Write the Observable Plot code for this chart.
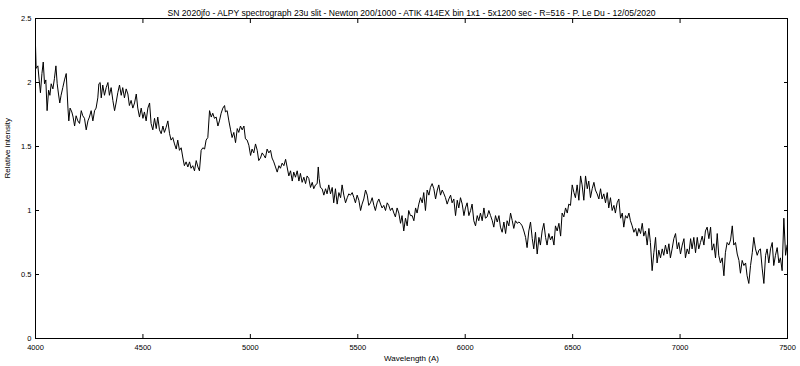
<!DOCTYPE html>
<html><head><meta charset="utf-8">
<script src="https://cdn.jsdelivr.net/npm/d3@7"></script>
<script src="https://cdn.jsdelivr.net/npm/@observablehq/plot@0.6"></script>
<style>html,body{margin:0;padding:0;background:#fff}svg{display:block}</style>
</head><body><div id="chart"></div>
<script>
const title = "SN 2020jfo - ALPY spectrograph 23u slit - Newton 200/1000 - ATIK 414EX bin 1x1 - 5x1200 sec - R=516 - P. Le Du - 12/05/2020";
const xLabel = "Wavelength (A)";
const yLabel = "Relative intensity";
const xTicks = [4000, 4500, 5000, 5500, 6000, 6500, 7000, 7500];
const yTicks = [0, 0.5, 1, 1.5, 2, 2.5];
const yTickLabels = ["0", "0.5", "1", "1.5", "2", "2.5"];

const wlA = [4000,4003,4011,4017,4023,4030,4036,4042,4048,4054,4061,4067,4073,4081,4088,4095,4101,4107,4113,4119,4127,4135,4143,4151,4155,4161,4169,4175,4182,4189,4197,4205,4213,4220,4228,4236,4244,4251,4259,4267,4275,4282,4290,4295,4301,4306,4313,4321,4329,4337,4344,4352,4360,4368,4375,4383,4391,4399,4406,4414,4422,4430,4437,4445,4453,4461,4469,4476,4484,4492,4500,4507,4515,4523,4531,4538,4546,4554,4562,4569,4577,4585,4593,4600,4608,4616,4624,4631,4639,4647,4655,4662,4670,4678,4686,4693,4701,4709,4717,4724,4732,4740,4748,4756,4763,4771,4779,4787,4794,4802,4810,4818,4825,4833,4841,4849,4856,4864,4872,4880];
const fluxA = [2.29,2.11,2.13,2.02,1.92,2.07,2.16,1.99,2.02,1.78,1.94,1.90,1.99,1.95,2.03,2.13,1.99,1.91,1.84,1.90,1.96,2.02,2.07,1.80,1.70,1.80,1.77,1.73,1.66,1.74,1.70,1.68,1.78,1.74,1.72,1.63,1.70,1.73,1.78,1.70,1.78,1.80,1.88,1.99,2.00,1.88,1.98,1.90,1.96,2.00,1.90,1.96,1.86,1.78,1.84,1.92,1.98,1.90,1.96,1.88,1.95,1.91,1.82,1.86,1.80,1.84,1.91,1.80,1.73,1.80,1.72,1.77,1.70,1.80,1.84,1.68,1.63,1.72,1.64,1.73,1.63,1.60,1.66,1.61,1.65,1.70,1.60,1.55,1.57,1.52,1.48,1.55,1.47,1.49,1.41,1.35,1.38,1.34,1.38,1.33,1.35,1.31,1.39,1.34,1.31,1.47,1.49,1.48,1.55,1.57,1.78,1.73,1.76,1.72,1.73,1.66,1.70,1.76,1.80,1.82];

const wlB = [4884,4892,4900,4908,4915,4923,4931,4939,4946,4954,4962,4970,4977,4985,4993,5001,5008,5016,5024,5032,5039,5047,5055,5063,5070,5078,5086,5094,5101,5109,5117,5125,5133,5140,5148,5156,5164,5171,5179,5187,5195,5202,5210,5218,5226,5233,5241,5249,5257,5264,5272,5280,5288,5295,5303,5311,5316,5320,5326,5334,5342,5350,5357,5365,5373,5381,5388,5396,5404,5412,5420,5427,5435,5443,5451,5458,5466,5474,5482,5489,5497,5505,5513,5520,5528,5536,5544,5551,5559,5567,5575,5582,5590,5598,5606,5613,5621,5629,5637,5644,5652,5660,5668,5675,5683,5691,5699,5706,5714,5722,5730,5737,5745];
const fluxB = [1.77,1.78,1.70,1.63,1.57,1.61,1.53,1.64,1.61,1.66,1.63,1.66,1.56,1.55,1.51,1.43,1.48,1.45,1.52,1.47,1.39,1.41,1.45,1.43,1.41,1.48,1.45,1.47,1.41,1.38,1.34,1.30,1.35,1.33,1.37,1.35,1.40,1.34,1.27,1.31,1.23,1.30,1.26,1.31,1.23,1.29,1.22,1.26,1.21,1.27,1.25,1.18,1.22,1.17,1.20,1.21,1.34,1.25,1.18,1.17,1.12,1.17,1.13,1.20,1.13,1.18,1.06,1.17,1.05,1.14,1.10,1.20,1.12,1.06,1.10,1.13,1.12,1.14,1.10,1.06,1.12,1.08,1.00,1.05,1.09,1.16,1.12,1.04,1.06,1.10,1.04,1.00,1.06,1.09,1.05,1.02,1.04,1.00,1.06,1.04,1.00,1.02,0.98,0.95,1.02,0.98,0.90,0.96,0.84,0.94,0.88,1.00,0.96];

const wlC = [5753,5761,5769,5776,5784,5792,5800,5807,5815,5823,5831,5838,5846,5854,5862,5870,5877,5885,5893,5901,5908,5916,5924,5932,5939,5947,5955,5963,5970,5978,5986,5994,6001,6009,6017,6025,6032,6040,6048,6056,6063,6071,6079,6087,6094,6102,6110,6118,6126,6133,6141,6149,6157,6164,6172,6180,6188,6195,6203,6211,6219,6226,6234,6242,6250,6257,6265,6273,6281,6288,6296,6304,6312,6319,6327,6335,6343,6350,6358,6366,6374,6381,6389,6397,6405,6413,6420,6428,6436,6444,6451,6459,6467,6475,6482,6490,6498,6506,6513,6521,6529,6537,6544,6552,6560,6568,6575,6583,6591,6599,6606,6614,6622];
const fluxC = [0.96,0.92,1.02,0.98,1.05,1.10,1.06,1.14,1.00,1.16,1.12,1.18,1.21,1.17,1.09,1.16,1.20,1.12,1.16,1.13,1.10,1.05,1.09,1.12,1.06,1.09,0.96,1.08,1.02,1.10,1.05,0.96,1.02,1.06,0.96,1.00,1.05,0.92,0.88,0.96,0.92,0.98,0.92,1.02,0.94,0.95,1.00,0.96,0.92,0.87,0.96,0.91,0.96,0.87,0.83,0.91,0.82,0.92,0.88,0.98,0.92,0.86,0.92,0.90,0.91,0.90,0.88,0.84,0.79,0.71,0.84,0.91,0.78,0.70,0.83,0.66,0.79,0.73,0.84,0.90,0.79,0.73,0.82,0.77,0.80,0.73,0.88,0.84,0.90,0.80,0.98,0.95,1.02,0.98,1.05,1.04,1.20,1.14,1.10,1.20,1.08,1.27,1.20,1.08,1.27,1.17,1.23,1.10,1.17,1.22,1.16,1.13,1.09];

const wlD = [6630,6637,6645,6653,6661,6668,6676,6684,6692,6699,6707,6715,6723,6731,6738,6746,6754,6762,6769,6777,6785,6793,6800,6808,6816,6824,6831,6839,6847,6855,6862,6870,6878,6886,6893,6901,6909,6917,6924,6932,6940,6948,6955,6963,6971,6979,6987,6994,7002,7010,7018,7025,7033,7041,7049,7056,7064,7072,7080,7087,7095,7103,7111,7118,7126,7134,7142,7149,7157,7165,7173,7180,7188,7196,7204,7211,7219,7227,7235,7243,7250,7258,7266,7274,7281,7289,7297,7305,7312,7320,7328,7336,7343,7351,7359,7367,7374,7382,7390,7398,7405,7413,7421,7429,7436,7444,7452,7460,7467,7475,7483,7491,7498];
const fluxD = [1.17,1.09,1.13,1.06,1.14,1.02,1.10,1.00,1.04,0.98,1.06,1.09,0.94,0.98,0.87,0.96,0.94,0.98,0.92,0.88,0.83,0.86,0.80,0.86,0.82,0.90,0.80,0.84,0.73,0.86,0.75,0.53,0.67,0.79,0.59,0.69,0.63,0.70,0.65,0.73,0.66,0.74,0.63,0.70,0.78,0.82,0.70,0.75,0.66,0.73,0.78,0.63,0.70,0.66,0.78,0.70,0.79,0.67,0.79,0.70,0.75,0.80,0.73,0.84,0.87,0.78,0.87,0.69,0.74,0.63,0.82,0.65,0.59,0.63,0.49,0.67,0.75,0.73,0.77,0.88,0.73,0.75,0.66,0.61,0.51,0.61,0.57,0.59,0.49,0.43,0.57,0.67,0.79,0.70,0.65,0.69,0.70,0.55,0.43,0.65,0.70,0.59,0.70,0.75,0.57,0.65,0.71,0.59,0.63,0.53,0.94,0.65,0.73];

const wavelength = [...wlA, ...wlB, ...wlC, ...wlD];
const intensity = [...fluxA, ...fluxB, ...fluxC, ...fluxD];
const data = wavelength.map((w, i) => ({w, v: intensity[i]}));

const font = "'Liberation Sans', Arial, sans-serif";
const chart = Plot.plot({
  width: 800, height: 366,
  marginLeft: 35, marginRight: 13, marginTop: 18, marginBottom: 28,
  style: {fontFamily: font, fontSize: "7.5px", background: "#fff", color: "#000"},
  x: {domain: [4000, 7500], label: null},
  y: {domain: [0, 2.5], label: null},
  marks: [
    Plot.axisX(xTicks, {anchor: "bottom", tickSize: -4, tickPadding: 10, tickFormat: d => String(d), label: null}),
    Plot.axisX(xTicks, {anchor: "top", tickSize: -4, tickFormat: () => "", label: null}),
    Plot.axisY(yTicks, {anchor: "left", tickSize: -4, tickPadding: 8, tickFormat: d => yTickLabels[yTicks.indexOf(d)], label: null}),
    Plot.axisY(yTicks, {anchor: "right", tickSize: -4, tickFormat: () => "", label: null}),
    Plot.line(data, {x: "w", y: "v", stroke: "#000", strokeWidth: 1}),
    Plot.frame({stroke: "#000"}),
    Plot.text([title], {frameAnchor: "top", dy: -9, fontSize: 8.6}),
    Plot.text([xLabel], {frameAnchor: "bottom", dy: 22, fontSize: 8}),
    Plot.text([yLabel], {frameAnchor: "left", dx: -28, rotate: -90, fontSize: 8})
  ]
});
document.getElementById("chart").appendChild(chart);
</script>
</body></html>
